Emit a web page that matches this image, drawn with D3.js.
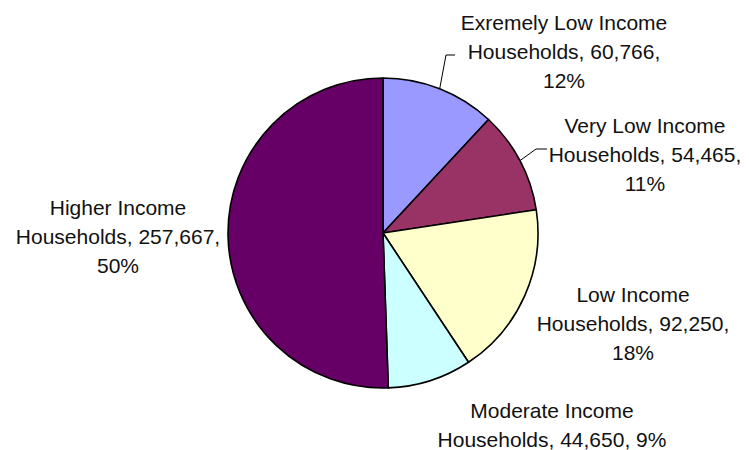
<!DOCTYPE html>
<html>
<head>
<meta charset="utf-8">
<script src="https://cdn.jsdelivr.net/npm/d3@7/dist/d3.min.js"></script>
<style>
  html, body { margin: 0; padding: 0; background: #fff; }
  svg { display: block; }
  text { font-family: "Liberation Sans", Arial, sans-serif; fill: #111; }
</style>
</head>
<body>
<svg id="chart" width="749" height="450"></svg>
<script>
// Household counts by income group
const categories = [
  "Exremely Low Income",
  "Very Low Income",
  "Low Income",
  "Moderate Income",
  "Higher Income"
];
const households = [60766, 54465, 92250, 44650, 257667];
const shareLabels = ["12%", "11%", "18%", "9%", "50%"];
const colors = ["#9999FF", "#993366", "#FFFFCC", "#CCFFFF", "#660066"];

// Label placement: centre x, first baseline, whether the share sits on its own line,
// and an optional elbow for the leader line
const labelLayout = [
  { x: 564, y: 30,  splitShare: true,  leader: [[446, 55], [455, 55]] },
  { x: 645, y: 133, splitShare: true,  leader: [[536, 149], [547, 149]] },
  { x: 633, y: 302, splitShare: true,  leader: null },
  { x: 552, y: 418, splitShare: false, leader: null },
  { x: 118, y: 215, splitShare: true,  leader: null }
];

const svg = d3.select("#chart");
const cx = 383, cy = 233, radius = 155;
const lineGap = 29;
const fmt = d3.format(",");

const data = categories.map((c, i) => ({
  name: c, value: households[i], share: shareLabels[i], color: colors[i], layout: labelLayout[i]
}));

const pie = d3.pie().sort(null).value(d => d.value);
const arcs = pie(data);
const arc = d3.arc().innerRadius(0).outerRadius(radius);

const g = svg.append("g").attr("transform", `translate(${cx},${cy})`);
g.selectAll("path.slice")
  .data(arcs)
  .join("path")
  .attr("class", "slice")
  .attr("d", arc)
  .attr("fill", d => d.data.color)
  .attr("stroke", "#000")
  .attr("stroke-width", 1.6)
  .attr("stroke-linejoin", "round");

// Leader lines from the middle of each slice's outer edge
arcs.forEach(a => {
  const L = a.data.layout;
  if (!L.leader) return;
  const mid = (a.startAngle + a.endAngle) / 2;
  const start = [cx + radius * Math.sin(mid), cy - radius * Math.cos(mid)];
  svg.append("polyline")
    .attr("points", [start, ...L.leader].map(p => p.join(",")).join(" "))
    .attr("fill", "none")
    .attr("stroke", "#000")
    .attr("stroke-width", 1);
});

// Data labels
arcs.forEach(a => {
  const d = a.data, L = d.layout;
  const lines = L.splitShare
    ? [d.name, `Households, ${fmt(d.value)},`, d.share]
    : [d.name, `Households, ${fmt(d.value)}, ${d.share}`];
  const t = svg.append("text")
    .attr("text-anchor", "middle")
    .attr("font-size", "21px");
  lines.forEach((s, i) => {
    t.append("tspan").attr("x", L.x).attr("y", L.y + i * lineGap).text(s);
  });
});
</script>
</body>
</html>
